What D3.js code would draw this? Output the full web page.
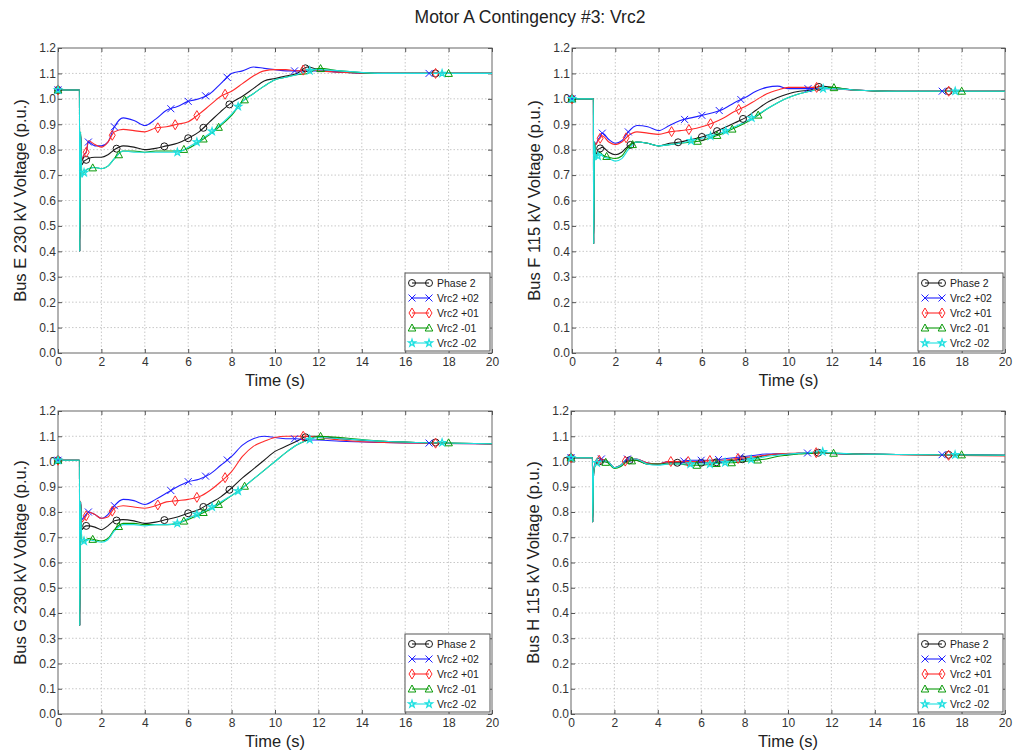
<!DOCTYPE html>
<html>
<head>
<meta charset="utf-8">
<script src="https://cdn.jsdelivr.net/npm/d3@7"></script>
<style>
  body { margin: 0; background: #fff; }
  svg { font-family: "Liberation Sans", Arial, sans-serif; }
  .grid line { stroke: #c8c8c8; stroke-dasharray: 1.5, 2; }
  .tick-label { font-size: 12px; fill: #333; }
  .axis-title { font-size: 16.5px; fill: #222; }
  .legend-text { font-size: 10.5px; fill: #222; }
</style>
</head>
<body>
<svg id="chart" width="1015" height="755"></svg>
<script>
// Shared time base (s) for all traces
const TIME = [0, 0.99, 1.0, 1.04, 1.1, 1.2, 1.3, 1.4, 1.7, 2.0, 2.3, 2.6, 3.0, 3.5, 4.0, 4.5, 5.0, 5.5,
  6.0, 6.5, 7.0, 7.5, 8.0, 8.5, 9.0, 9.5, 10, 10.5, 11, 11.5, 12, 13, 15, 20];

const SERIES_NAMES = ["Phase 2", "Vrc2 +02", "Vrc2 +01", "Vrc2 -01", "Vrc2 -02"];
const X_TICKS = [0, 2, 4, 6, 8, 10, 12, 14, 16, 18, 20];
const Y_TICKS = [0, 0.1, 0.2, 0.3, 0.4, 0.5, 0.6, 0.7, 0.8, 0.9, 1.0, 1.1, 1.2];

// Marker times for each series (markers sit on the trace)
const MARK_PH2 = [0, 1.3, 2.7, 4.9, 6.0, 6.7, 7.9, 11.4, 17.4];
const MARK_P02 = [0, 1.4, 2.6, 5.2, 6.0, 6.8, 7.8, 10.9, 17.1];
const MARK_P01 = [0, 1.3, 2.5, 4.6, 5.4, 6.4, 7.7, 11.3, 17.4];
const MARK_M01 = [0, 1.6, 2.8, 5.8, 6.7, 7.4, 8.6, 12.1, 18.0];
const MARK_M02 = [0, 1.2, 5.5, 6.4, 7.1, 8.3, 11.6, 17.7];

// Bus E 230 kV
const busE_ph2 = [1.035,1.035,0.40,0.86,0.74,0.755,0.76,0.765,0.77,0.77,0.78,0.80,0.815,0.81,0.80,0.805,0.815,0.825,0.845,0.87,0.91,0.95,0.985,1.01,1.04,1.07,1.08,1.09,1.10,1.125,1.115,1.105,1.10,1.10];
const busE_p02 = [1.035,1.035,0.40,0.86,0.76,0.78,0.79,0.83,0.815,0.815,0.83,0.89,0.925,0.915,0.895,0.92,0.955,0.97,0.99,1.0,1.02,1.06,1.10,1.11,1.125,1.12,1.115,1.11,1.11,1.11,1.11,1.105,1.10,1.10];
const busE_p01 = [1.035,1.035,0.40,0.86,0.76,0.78,0.79,0.835,0.82,0.81,0.83,0.87,0.88,0.875,0.87,0.885,0.89,0.90,0.91,0.94,0.975,1.01,1.03,1.06,1.09,1.11,1.115,1.115,1.11,1.115,1.11,1.105,1.10,1.10];
const busE_m01 = [1.035,1.035,0.40,0.87,0.70,0.71,0.72,0.725,0.73,0.725,0.735,0.765,0.795,0.795,0.79,0.795,0.795,0.795,0.805,0.83,0.86,0.895,0.935,0.99,1.02,1.05,1.075,1.085,1.095,1.10,1.12,1.11,1.10,1.10];
const busE_m02 = [1.035,1.035,0.40,0.87,0.69,0.71,0.72,0.725,0.73,0.725,0.735,0.765,0.795,0.79,0.79,0.79,0.79,0.79,0.81,0.835,0.865,0.90,0.94,0.99,1.02,1.05,1.075,1.085,1.095,1.11,1.115,1.11,1.10,1.10];

// Bus F 115 kV
const busF_ph2 = [1.0,1.0,0.43,0.83,0.78,0.80,0.805,0.81,0.79,0.78,0.79,0.815,0.83,0.825,0.815,0.825,0.83,0.84,0.85,0.865,0.885,0.905,0.925,0.955,0.985,1.005,1.02,1.03,1.035,1.05,1.045,1.035,1.03,1.03];
const busF_p02 = [1.0,1.0,0.43,0.83,0.82,0.84,0.85,0.865,0.84,0.825,0.835,0.87,0.895,0.89,0.875,0.895,0.915,0.925,0.935,0.945,0.96,0.985,1.005,1.03,1.045,1.05,1.04,1.04,1.04,1.04,1.04,1.035,1.03,1.03];
const busF_p01 = [1.0,1.0,0.43,0.83,0.82,0.835,0.845,0.855,0.83,0.82,0.83,0.855,0.87,0.865,0.86,0.87,0.875,0.88,0.89,0.905,0.925,0.95,0.97,0.995,1.02,1.035,1.045,1.045,1.045,1.045,1.04,1.035,1.03,1.03];
const busF_m01 = [1.0,1.0,0.43,0.83,0.77,0.785,0.79,0.78,0.77,0.765,0.775,0.81,0.83,0.825,0.815,0.82,0.825,0.83,0.835,0.85,0.865,0.885,0.905,0.93,0.96,0.985,1.005,1.02,1.03,1.04,1.045,1.035,1.03,1.03];
const busF_m02 = [1.0,1.0,0.43,0.83,0.76,0.775,0.785,0.775,0.765,0.755,0.765,0.80,0.83,0.825,0.815,0.82,0.825,0.835,0.845,0.855,0.87,0.89,0.91,0.935,0.96,0.985,1.005,1.02,1.03,1.04,1.04,1.035,1.03,1.03];

// Bus G 230 kV
const busG_ph2 = [1.005,1.005,0.35,0.84,0.73,0.74,0.745,0.745,0.74,0.73,0.745,0.765,0.77,0.765,0.755,0.76,0.77,0.78,0.795,0.81,0.835,0.86,0.895,0.935,0.97,1.005,1.04,1.06,1.08,1.10,1.10,1.09,1.08,1.07];
const busG_p02 = [1.005,1.005,0.35,0.84,0.77,0.78,0.79,0.80,0.79,0.775,0.79,0.825,0.85,0.845,0.83,0.85,0.875,0.90,0.92,0.93,0.95,0.985,1.02,1.065,1.09,1.10,1.095,1.09,1.09,1.085,1.085,1.08,1.075,1.07];
const busG_p01 = [1.005,1.005,0.35,0.84,0.76,0.77,0.785,0.80,0.79,0.775,0.78,0.815,0.825,0.82,0.815,0.825,0.84,0.845,0.85,0.86,0.885,0.92,0.96,1.02,1.06,1.08,1.095,1.10,1.10,1.10,1.095,1.085,1.075,1.07];
const busG_m01 = [1.005,1.005,0.35,0.84,0.68,0.685,0.69,0.695,0.69,0.685,0.695,0.73,0.755,0.755,0.75,0.75,0.75,0.755,0.77,0.79,0.81,0.835,0.865,0.895,0.93,0.965,1.0,1.035,1.065,1.085,1.10,1.095,1.08,1.07];
const busG_m02 = [1.005,1.005,0.35,0.84,0.68,0.685,0.685,0.69,0.685,0.68,0.69,0.725,0.75,0.75,0.745,0.75,0.75,0.755,0.775,0.795,0.815,0.84,0.865,0.895,0.93,0.965,1.0,1.035,1.065,1.085,1.095,1.09,1.08,1.07];

// Bus H 115 kV
const busH_ph2 = [1.015,1.015,0.76,0.95,0.985,0.995,1.0,1.005,1.0,0.975,0.985,1.005,1.005,0.99,0.99,0.995,0.995,0.995,0.995,0.995,1.0,1.005,1.01,1.015,1.025,1.03,1.03,1.032,1.034,1.035,1.032,1.03,1.028,1.025];
const busH_p02 = [1.015,1.015,0.76,0.95,0.99,1.0,1.005,1.01,1.0,0.975,0.985,1.01,1.01,0.995,0.99,1.0,1.0,1.005,1.005,1.005,1.01,1.015,1.02,1.025,1.03,1.03,1.03,1.032,1.034,1.035,1.032,1.03,1.028,1.025];
const busH_p01 = [1.015,1.015,0.76,0.95,0.99,1.0,1.005,1.01,1.0,0.975,0.985,1.01,1.01,0.995,0.99,1.0,1.0,1.0,1.0,1.005,1.005,1.01,1.015,1.02,1.025,1.03,1.032,1.033,1.035,1.035,1.032,1.03,1.027,1.022];
const busH_m01 = [1.015,1.015,0.76,0.95,0.98,0.99,0.995,1.0,0.995,0.972,0.98,1.0,1.005,0.99,0.99,0.99,0.99,0.985,0.985,0.99,0.995,0.995,1.0,1.005,1.01,1.02,1.025,1.03,1.032,1.035,1.033,1.03,1.028,1.025];
const busH_m02 = [1.015,1.015,0.76,0.95,0.985,0.995,1.0,1.005,1.0,0.975,0.985,1.01,1.01,0.99,0.985,0.99,0.99,0.99,0.99,0.99,0.995,1.0,1.005,1.01,1.02,1.025,1.03,1.032,1.035,1.04,1.034,1.03,1.028,1.025];

// Styles per series
const COLORS = ["#1a1a1a", "#1f1fff", "#ff2a2a", "#0a9a0a", "#1ee0e0"];
const MARKS = [MARK_PH2, MARK_P02, MARK_P01, MARK_M01, MARK_M02];

const panels = [
  { title: "Bus E 230 kV Voltage (p.u.)", series: [busE_ph2, busE_p02, busE_p01, busE_m01, busE_m02], left: 58, right: 492, top: 48, bottom: 353 },
  { title: "Bus F 115 kV Voltage (p.u.)", series: [busF_ph2, busF_p02, busF_p01, busF_m01, busF_m02], left: 572, right: 1005, top: 48, bottom: 353 },
  { title: "Bus G 230 kV Voltage (p.u.)", series: [busG_ph2, busG_p02, busG_p01, busG_m01, busG_m02], left: 58, right: 492, top: 411, bottom: 714 },
  { title: "Bus H 115 kV Voltage (p.u.)", series: [busH_ph2, busH_p02, busH_p01, busH_m01, busH_m02], left: 571, right: 1005, top: 411, bottom: 714 }
];

const svg = d3.select("#chart");

svg.append("text")
  .attr("x", 530)
  .attr("y", 23)
  .attr("text-anchor", "middle")
  .style("font-size", "17.5px")
  .style("fill", "#222")
  .text("Motor A Contingency #3: Vrc2");

/**
 * Value of a trace at time t (used to sit markers on the line)
 */
function valueAt(t, values) {
  const i = d3.bisectRight(TIME, t);
  if (i <= 0) return values[0];
  if (i >= TIME.length) return values[values.length - 1];
  const t0 = TIME[i - 1], t1 = TIME[i];
  const f = (t - t0) / (t1 - t0);
  return values[i - 1] + f * (values[i] - values[i - 1]);
}

/**
 * Draws one marker symbol for series k at (x, y)
 */
function drawMarker(g, k, x, y) {
  const c = COLORS[k];
  if (k === 0) {
    g.append("circle").attr("cx", x).attr("cy", y).attr("r", 3.5)
      .attr("fill", "none").attr("stroke", c).attr("stroke-width", 1);
  } else if (k === 1) {
    g.append("path").attr("d", `M${x - 3.5},${y - 3.5}L${x + 3.5},${y + 3.5}M${x - 3.5},${y + 3.5}L${x + 3.5},${y - 3.5}`)
      .attr("stroke", c).attr("stroke-width", 1);
  } else if (k === 2) {
    g.append("path").attr("d", `M${x},${y - 5}L${x + 3},${y}L${x},${y + 5}L${x - 3},${y}Z`)
      .attr("fill", "none").attr("stroke", c).attr("stroke-width", 1);
  } else if (k === 3) {
    g.append("path").attr("d", `M${x},${y - 4}L${x + 3.8},${y + 3}L${x - 3.8},${y + 3}Z`)
      .attr("fill", "none").attr("stroke", c).attr("stroke-width", 1);
  } else {
    g.append("path").attr("d", d3.symbol(d3.symbolStar, 16)())
      .attr("transform", `translate(${x},${y})`)
      .attr("fill", "none").attr("stroke", c).attr("stroke-width", 1.2);
  }
}

panels.forEach(function (p) {
  const xScale = d3.scaleLinear().domain([0, 20]).range([p.left, p.right]);
  const yScale = d3.scaleLinear().domain([0, 1.2]).range([p.bottom, p.top]);
  const g = svg.append("g");

  // Grid
  const grid = g.append("g").attr("class", "grid");
  grid.selectAll(".vx").data(X_TICKS.slice(1, -1)).enter().append("line")
    .attr("x1", d => xScale(d)).attr("x2", d => xScale(d))
    .attr("y1", p.top).attr("y2", p.bottom);
  grid.selectAll(".hy").data(Y_TICKS.slice(1, -1)).enter().append("line")
    .attr("y1", d => yScale(d)).attr("y2", d => yScale(d))
    .attr("x1", p.left).attr("x2", p.right);

  // Box + inward ticks on all sides
  g.append("rect")
    .attr("x", p.left).attr("y", p.top)
    .attr("width", p.right - p.left).attr("height", p.bottom - p.top)
    .attr("fill", "none").attr("stroke", "#666").attr("stroke-width", 1);

  const tickLen = 4;
  const axisX = g.append("g").attr("transform", "translate(0," + p.bottom + ")")
    .call(d3.axisBottom(xScale).tickValues(X_TICKS).tickSize(-tickLen).tickPadding(4).tickFormat(d3.format("d")));
  const axisXTop = g.append("g").attr("transform", "translate(0," + p.top + ")")
    .call(d3.axisTop(xScale).tickValues(X_TICKS).tickSize(-tickLen).tickFormat(""));
  const axisY = g.append("g").attr("transform", "translate(" + p.left + ",0)")
    .call(d3.axisLeft(yScale).tickValues(Y_TICKS).tickSize(-tickLen).tickPadding(2).tickFormat(d3.format(".1f")));
  const axisYRight = g.append("g").attr("transform", "translate(" + p.right + ",0)")
    .call(d3.axisRight(yScale).tickValues(Y_TICKS).tickSize(-tickLen).tickFormat(""));
  [axisX, axisXTop, axisY, axisYRight].forEach(function (a) {
    a.select(".domain").remove();
    a.selectAll(".tick line").attr("stroke", "#555");
    a.selectAll(".tick text").attr("class", "tick-label").style("font-family", "Liberation Sans, Arial, sans-serif");
  });

  // Axis titles
  g.append("text")
    .attr("class", "axis-title")
    .attr("x", (p.left + p.right) / 2)
    .attr("y", p.bottom + 33)
    .attr("text-anchor", "middle")
    .text("Time (s)");
  g.append("text")
    .attr("class", "axis-title")
    .attr("text-anchor", "middle")
    .attr("transform", "translate(" + (p.left - 32) + "," + (p.top + p.bottom) / 2 + ")rotate(-90)")
    .text(p.title);

  // Traces
  const line = d3.line()
    .x((d, i) => xScale(TIME[i]))
    .y(d => yScale(d))
    .curve(d3.curveMonotoneX);

  const plot = g.append("g");
  p.series.forEach(function (vals, k) {
    plot.append("path")
      .datum(vals)
      .attr("d", line)
      .attr("fill", "none")
      .attr("stroke", COLORS[k])
      .attr("stroke-width", 1.1);
  });
  p.series.forEach(function (vals, k) {
    MARKS[k].forEach(function (t) {
      drawMarker(plot, k, xScale(t), yScale(valueAt(t, vals)));
    });
  });

  // Legend
  const lw = 85, lh = 78;
  const lx = p.right - 2 - lw, ly = p.bottom - 2 - lh;
  const leg = g.append("g");
  leg.append("rect")
    .attr("x", lx).attr("y", ly).attr("width", lw).attr("height", lh)
    .attr("fill", "#fff").attr("stroke", "#555").attr("stroke-width", 1);
  SERIES_NAMES.forEach(function (name, k) {
    const yy = ly + 10 + k * 15;
    leg.append("line")
      .attr("x1", lx + 7).attr("x2", lx + 24)
      .attr("y1", yy).attr("y2", yy)
      .attr("stroke", COLORS[k]).attr("stroke-width", 1.1);
    drawMarker(leg, k, lx + 7, yy);
    drawMarker(leg, k, lx + 24, yy);
    leg.append("text")
      .attr("class", "legend-text")
      .attr("x", lx + 32)
      .attr("y", yy + 3.5)
      .text(name);
  });
});
</script>
</body>
</html>
